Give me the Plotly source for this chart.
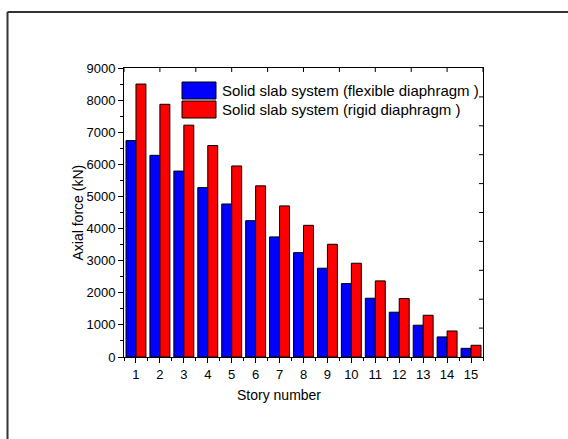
import plotly.graph_objects as go

# Axial force per story for the two diaphragm assumptions
stories = list(range(1, 16))
flexible_kn = [6740, 6280, 5790, 5275, 4765, 4245, 3740, 3250, 2765, 2285, 1830, 1395, 990, 625, 270]
rigid_kn = [8500, 7870, 7220, 6585, 5950, 5330, 4705, 4100, 3510, 2920, 2370, 1820, 1300, 810, 365]

series_names = [
    "Solid slab system (flexible diaphragm )",
    "Solid slab system (rigid diaphragm )",
]
series_colors = ["#0000FF", "#FF0000"]

y_ticks = [0, 1000, 2000, 3000, 4000, 5000, 6000, 7000, 8000, 9000]
top_ticks = [0.5, 2, 3.5, 5, 6.5, 8, 9.5, 11, 12.5, 14, 15.5]
right_ticks = [900, 1800, 2700, 3600, 4500, 5400, 6300, 7200, 8100]

W, H = 568, 439
ML, MR, MT, MB = 124, 85, 68, 82
PW, PH = W - ML - MR, H - MT - MB
FONT = "Arial, 'Liberation Sans', sans-serif"


def px_x(p):
    return (p - ML) / PW


def px_y(p):
    return (H - MB - p) / PH


fig = go.Figure()
for name, vals, col in zip(series_names, [flexible_kn, rigid_kn], series_colors):
    fig.add_trace(go.Bar(
        x=stories, y=vals, name=name,
        marker=dict(color=col, line=dict(color="black", width=1)),
        showlegend=False,
    ))

shapes = []
# mirrored ticks on the top axis (pointing inward)
for t in top_ticks:
    shapes.append(dict(type="line", xref="x", yref="paper", x0=t, x1=t,
                       y0=1, y1=1 - 4 / PH, line=dict(color="black", width=1)))
# mirrored ticks on the right axis (pointing inward)
for t in right_ticks:
    shapes.append(dict(type="line", xref="paper", yref="y", x0=1, x1=1 - 4 / PW,
                       y0=t, y1=t, line=dict(color="black", width=1)))

# legend swatches
box_l, box_r = 182, 216
rows = [(82, 99), (101, 118)]
annotations = []
for (top, bot), name, col in zip(rows, series_names, series_colors):
    shapes.append(dict(type="rect", xref="paper", yref="paper",
                       x0=px_x(box_l), x1=px_x(box_r), y0=px_y(bot), y1=px_y(top),
                       fillcolor=col, line=dict(color="black", width=1)))
    annotations.append(dict(xref="paper", yref="paper", x=px_x(220), y=px_y((top + bot) / 2),
                            xanchor="left", yanchor="middle", text=name, showarrow=False,
                            font=dict(family=FONT, size=15, color="black")))

# page frame
frame = dict(color="#333333", width=2)
shapes.append(dict(type="line", xref="paper", yref="paper",
                   x0=px_x(7.5), x1=px_x(7.5), y0=px_y(12), y1=px_y(445), line=frame))
shapes.append(dict(type="line", xref="paper", yref="paper",
                   x0=px_x(7.5), x1=px_x(575), y0=px_y(12), y1=px_y(12), line=frame))

# axis titles
annotations.append(dict(xref="paper", yref="paper", x=px_x(279), y=px_y(395),
                        xanchor="center", yanchor="middle", text="Story number",
                        showarrow=False, font=dict(family=FONT, size=14, color="black")))
annotations.append(dict(xref="paper", yref="paper", x=px_x(77), y=0.5,
                        xanchor="center", yanchor="middle", text="Axial force (kN)", textangle=-90,
                        showarrow=False, font=dict(family=FONT, size=14, color="black")))

fig.update_layout(
    width=W, height=H,
    margin=dict(l=ML, r=MR, t=MT, b=MB),
    paper_bgcolor="white", plot_bgcolor="white",
    barmode="group", bargap=0.167, bargroupgap=0,
    font=dict(family=FONT, size=13, color="black"),
    shapes=shapes, annotations=annotations,
    xaxis=dict(
        range=[0.5, 15.5], tickvals=stories, ticktext=[str(s) for s in stories],
        ticks="outside", ticklen=5, tickwidth=1, tickcolor="black",
        showline=True, linecolor="black", linewidth=1, mirror=True,
        showgrid=False, zeroline=False,
        minor=dict(tick0=0.5, dtick=1, ticks="outside", ticklen=3, tickcolor="black", showgrid=False),
        tickfont=dict(family=FONT, size=13, color="black"),
    ),
    yaxis=dict(
        range=[0, 9000], tickvals=y_ticks,
        ticks="outside", ticklen=5, tickwidth=1, tickcolor="black",
        showline=True, linecolor="black", linewidth=1, mirror=True,
        showgrid=False, zeroline=False,
        minor=dict(dtick=500, ticks="outside", ticklen=3, tickcolor="black", showgrid=False),
        tickfont=dict(family=FONT, size=13, color="black"),
    ),
)

fig.write_html("out.html")
